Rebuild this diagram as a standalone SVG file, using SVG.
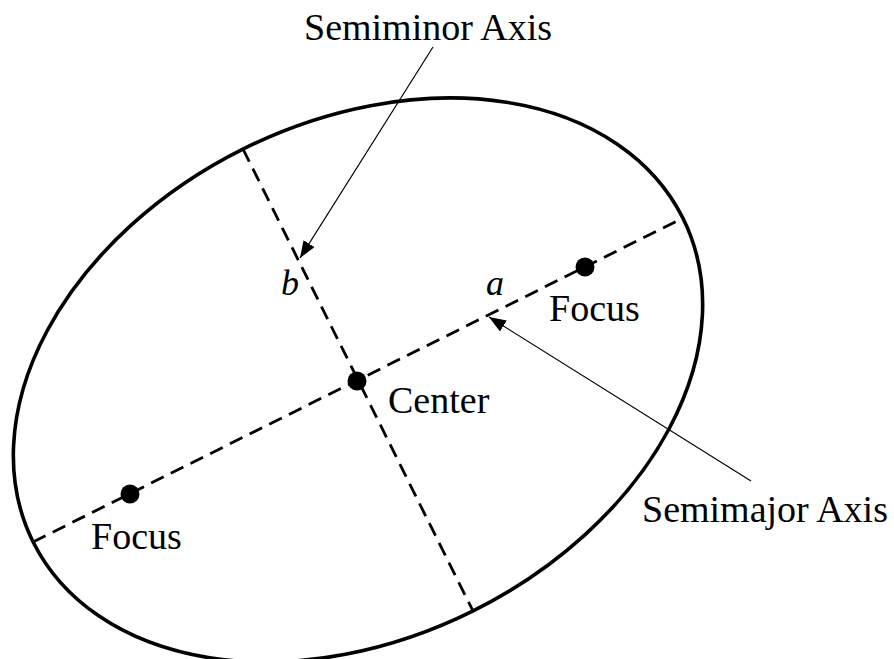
<svg xmlns="http://www.w3.org/2000/svg" width="894" height="659" viewBox="0 0 894 659">
<style>
.lbl{font-family:"Liberation Serif","Times New Roman",serif;font-size:38px;fill:#000}
.it{font-family:"Liberation Serif","Times New Roman",serif;font-style:italic;font-size:36px;fill:#000}
.axis{stroke:#000;stroke-width:2.8;stroke-dasharray:14 8;fill:none}
.ptr{stroke:#000;stroke-width:1.2;fill:none}
</style>
<defs>
<marker id="ah" markerUnits="userSpaceOnUse" markerWidth="18" markerHeight="14" refX="17" refY="6.5" orient="auto">
<path d="M0,0 L17,6.5 L0,13 Z" fill="#000"/>
</marker>
</defs>
<rect width="894" height="659" fill="#fff"/>
<g id="ellipse">
<ellipse cx="358" cy="380" rx="363" ry="258" transform="rotate(-26.5 358 380)" fill="none" stroke="#000" stroke-width="3.6"/>
</g>
<g id="connectors">
<line class="axis" x1="33" y1="542" x2="683" y2="218"/>
<line class="axis" x1="243" y1="149" x2="473" y2="611"/>
<line class="ptr" x1="433" y1="47" x2="300" y2="258" marker-end="url(#ah)"/>
<line class="ptr" x1="751" y1="481" x2="489" y2="317" marker-end="url(#ah)"/>
</g>
<g id="center">
<circle cx="357" cy="381" r="9.5" fill="#000"/>
<text class="lbl" x="388" y="413">Center</text>
</g>
<g id="focus-right">
<circle cx="585" cy="267" r="9.5" fill="#000"/>
<text class="lbl" x="549" y="321">Focus</text>
</g>
<g id="focus-left">
<circle cx="130" cy="494" r="9.5" fill="#000"/>
<text class="lbl" x="91" y="549">Focus</text>
</g>
<g id="label-a"><text class="it" x="486" y="295">a</text></g>
<g id="label-b"><text class="it" x="281" y="295">b</text></g>
<g id="semiminor"><text class="lbl" x="304" y="40">Semiminor Axis</text></g>
<g id="semimajor"><text class="lbl" x="642" y="522">Semimajor Axis</text></g>
</svg>
